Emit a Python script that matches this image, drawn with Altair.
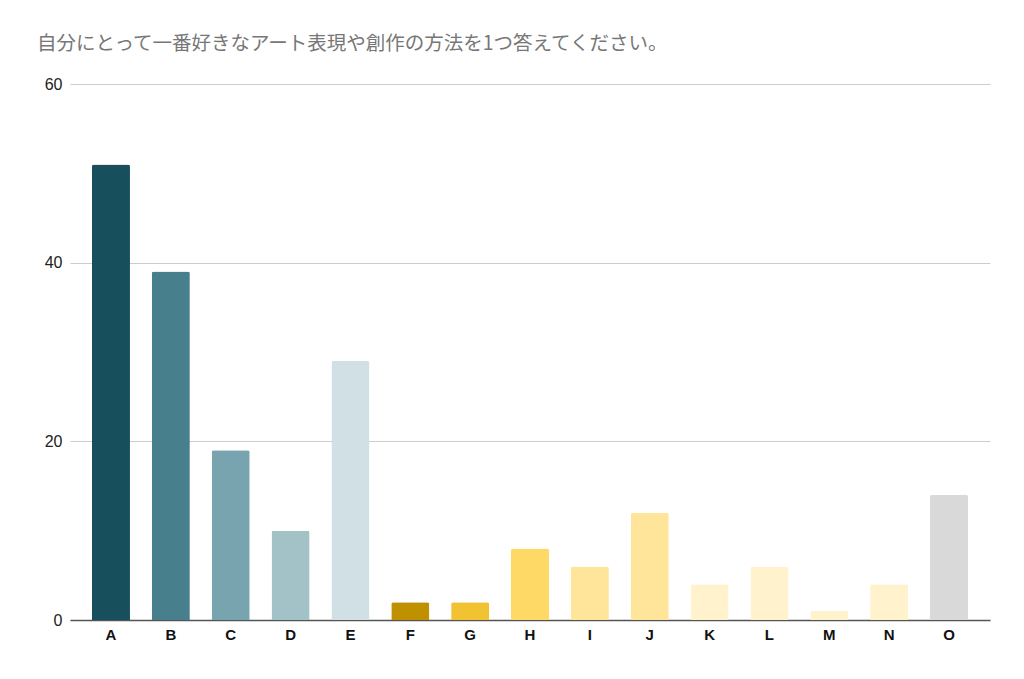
import altair as alt
import pandas as pd

categories = ["A", "B", "C", "D", "E", "F", "G", "H", "I", "J", "K", "L", "M", "N", "O"]
values = [51, 39, 19, 10, 29, 2, 2, 8, 6, 12, 4, 6, 1, 4, 14]
colors = ["#174f5c", "#47808c", "#78a4af", "#a3c2c7", "#d1e0e4",
          "#bf9000", "#f1c232", "#ffd966", "#ffe599", "#ffe599",
          "#fff2cc", "#fff2cc", "#fff2cc", "#fff2cc", "#d9d9d9"]
title = "自分にとって一番好きなアート表現や創作の方法を1つ答えてください。"

df = pd.DataFrame({"cat": categories, "val": values, "color": colors})

chart = alt.Chart(df).mark_bar(cornerRadiusTopLeft=2, cornerRadiusTopRight=2).encode(
    x=alt.X("cat:N", sort=categories, title=None,
            scale=alt.Scale(paddingInner=0.365, paddingOuter=0.367),
            axis=alt.Axis(labelAngle=0, labelFontWeight="bold", labelFontSize=15,
                          labelColor="#111", labelFont="Liberation Sans",
                          ticks=False, domainColor="#555", domainWidth=1.5,
                          labelPadding=7, grid=False)),
    y=alt.Y("val:Q", title=None,
            scale=alt.Scale(domain=[0, 60]),
            axis=alt.Axis(values=[0, 20, 40, 60], labelFontSize=16, labelColor="#222",
                          labelFont="Liberation Sans", ticks=False, domain=False,
                          gridColor="#cccccc", labelPadding=8)),
    color=alt.Color("color:N", scale=None, legend=None),
).properties(
    width=920, height=536,
    title=alt.TitleParams(title, anchor="start", frame="group", dx=-33, offset=22,
                          font="Noto Sans CJK JP", fontSize=19.5, fontWeight="normal",
                          color="#777777"),
    autosize=alt.AutoSizeParams(type="none"),
    padding={"left": 62, "top": 76, "right": 26, "bottom": 51},
).configure_view(stroke=None)

chart.save("out.html", embed_options={"renderer": "svg", "actions": False})
